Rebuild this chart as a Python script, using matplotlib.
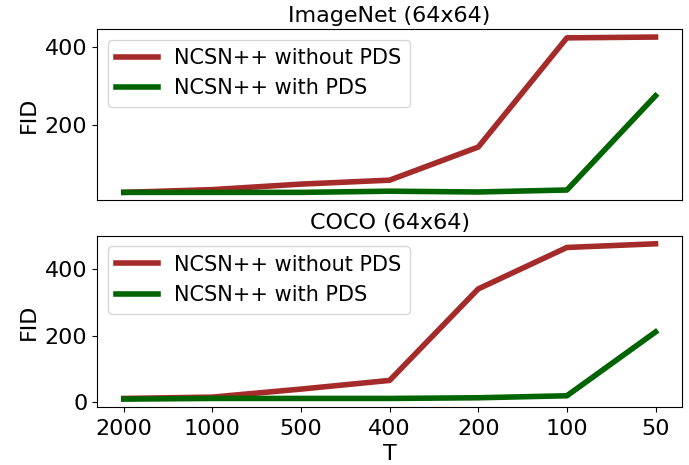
import matplotlib
matplotlib.use("Agg")
import matplotlib.pyplot as plt

T_labels = ["2000", "1000", "500", "400", "200", "100", "50"]

imagenet_without = [30, 37, 51, 61, 145, 422, 424]
imagenet_with = [30, 30, 30, 33, 31, 36, 275]

coco_without = [12, 16, 40, 66, 340, 464, 475]
coco_with = [10, 12, 12, 12, 14, 20, 211]

red = "#a52a2a"
green = "#006400"

fig, (ax1, ax2) = plt.subplots(2, 1, figsize=(6.89, 4.65), dpi=100, sharex=True)
fig.subplots_adjust(left=0.141, right=0.990, top=0.937, bottom=0.125, hspace=0.21)

x = list(range(len(T_labels)))
fs = 16

for ax, wo, w, title in [(ax1, imagenet_without, imagenet_with, "ImageNet (64x64)"),
                         (ax2, coco_without, coco_with, "COCO (64x64)")]:
    ax.plot(x, wo, color=red, lw=4, label="NCSN++ without PDS")
    ax.plot(x, w, color=green, lw=4, label="NCSN++ with PDS")
    ax.set_title(title, fontsize=fs, pad=5)
    ax.set_ylabel("FID", fontsize=fs, labelpad=4)
    ax.tick_params(labelsize=fs)
    ax.legend(loc="upper left", fontsize=15)

ax1.set_yticks([200, 400])
ax1.tick_params(axis="x", length=0)
ax2.set_xticks(x)
ax2.set_xticklabels(T_labels)
ax2.tick_params(axis="x", pad=5)
ax2.set_xlabel("T", fontsize=fs, labelpad=4)

fig.savefig("out.png", dpi=100)
